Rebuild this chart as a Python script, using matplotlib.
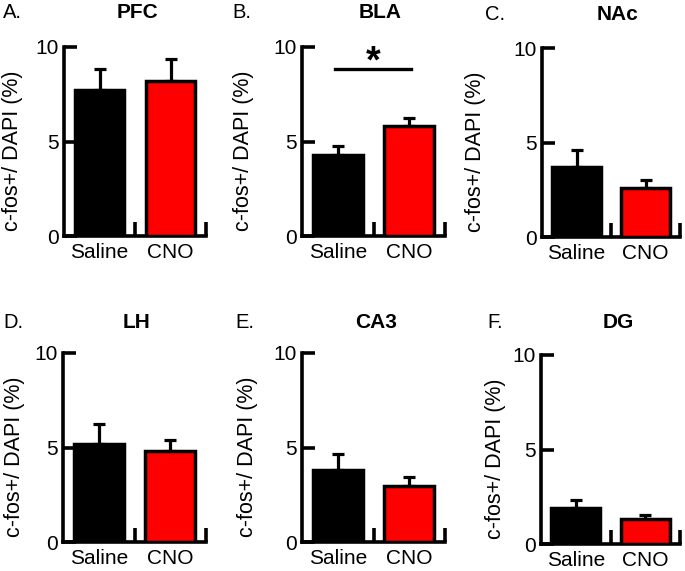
import matplotlib
matplotlib.use('Agg')
import matplotlib.pyplot as plt

plt.rcParams['font.family'] = ['Liberation Sans', 'DejaVu Sans']

# ---- data ----
regions = ['PFC', 'BLA', 'NAc', 'LH', 'CA3', 'DG']
letters = ['A.', 'B.', 'C.', 'D.', 'E.', 'F.']
groups = ['Saline', 'CNO']
saline_mean = [7.7, 4.3, 3.7, 5.2, 3.8, 1.9]
saline_sem = [1.15, 0.45, 0.9, 1.05, 0.85, 0.45]
cno_mean = [8.2, 5.8, 2.6, 4.8, 2.95, 1.3]
cno_sem = [1.15, 0.45, 0.4, 0.6, 0.5, 0.25]
yticks = [0, 5, 10]
ylabel = 'c-fos+/ DAPI (%)'
sig_panel = 'BLA'

# ---- layout (pixels) ----
W, H = 685, 571
boxes = [(64, 206, 47, 236), (302, 445, 47, 236), (542, 680, 48, 237),
         (63, 206, 353, 542), (302, 445, 353, 542), (541, 680, 355, 544)]
label_cx = [13, 244, 476, 15, 248, 495]
letter_pos = [(3, 13), (232, 13), (485, 14), (3, 322), (235, 322), (487, 323)]
title_pos = [(137, 13), (380, 13), (617, 15), (137, 322), (376, 322), (618, 323)]
colors = ['black', '#ff0000']
LW = 2.5

fig = plt.figure(figsize=(W / 100, H / 100), dpi=100)

for i, reg in enumerate(regions):
    l, r, t, b = boxes[i]
    ax = fig.add_axes([l / W, 1 - b / H, (r - l) / W, (b - t) / H])
    x = [0.5, 1.5]
    means = [saline_mean[i], cno_mean[i]]
    sems = [saline_sem[i], cno_sem[i]]
    ax.errorbar(x, means, yerr=[[0, 0], sems], fmt='none', ecolor='black',
                elinewidth=2.3, capsize=4.5, capthick=2.3, zorder=2)
    ax.bar(x, means, width=0.7, color=colors, edgecolor='black',
           linewidth=LW, zorder=3)
    ax.set_xlim(0, 2)
    ax.set_ylim(0, 10)
    for s in ['top', 'right']:
        ax.spines[s].set_visible(False)
    for s in ['left', 'bottom']:
        ax.spines[s].set_linewidth(2.6)
    ax.set_yticks(yticks)
    ax.tick_params(axis='y', direction='in', length=9, width=2.6,
                   labelsize=15, pad=4)
    ax.set_xticks(x, labels=groups)
    ax.tick_params(axis='x', which='major', length=0, labelsize=15, pad=5)
    ax.set_xticks([1, 2], minor=True)
    ax.tick_params(axis='x', which='minor', direction='in', length=10,
                   width=2.6)
    ax.set_ylabel(ylabel, fontsize=15.5, va='center')
    ax.yaxis.set_label_coords((label_cx[i] - l) / (r - l), 0.45)

    fig.text(letter_pos[i][0] / W, 1 - letter_pos[i][1] / H, letters[i],
             fontsize=14.5, ha='left', va='center')
    fig.text(title_pos[i][0] / W, 1 - title_pos[i][1] / H, reg,
             fontsize=15, fontweight='bold', ha='center', va='center')

    if reg == sig_panel:
        ax.plot([0.46, 1.52], [8.85, 8.85], color='black', lw=2.4,
                clip_on=False)
        ax.text(1.0, 9.2, '*', fontsize=27, fontweight='bold',
                ha='center', va='center')

fig.savefig('out.png', dpi=100)
